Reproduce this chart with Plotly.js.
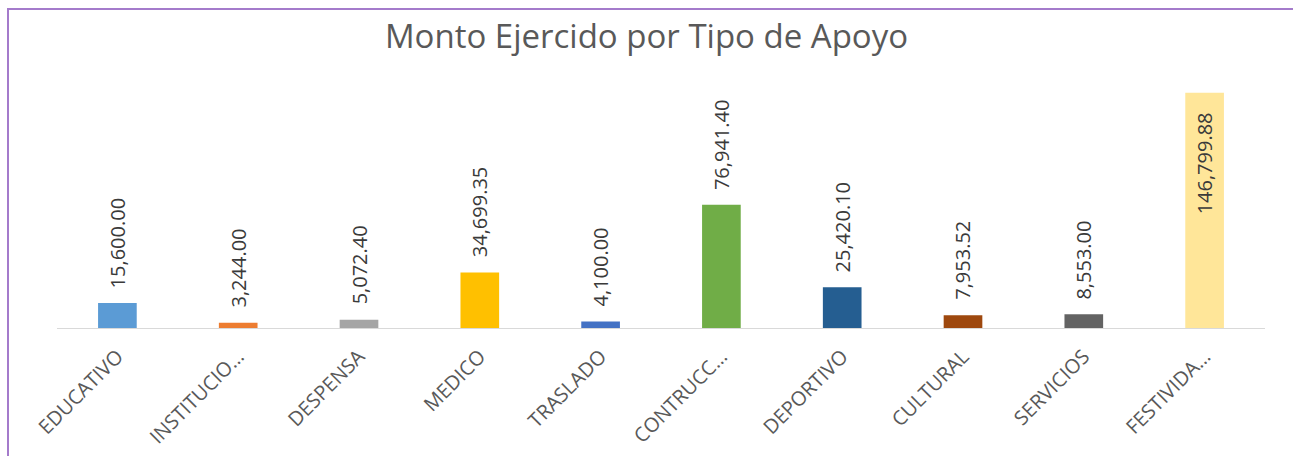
<!DOCTYPE html>
<html>
<head>
<meta charset="utf-8">
<script src="https://cdn.plot.ly/plotly-3.0.1.min.js"></script>
<style>
  html, body { margin:0; padding:0; background:#fff; }
  #wrap { position:relative; width:1293px; height:456px; overflow:hidden; }
  #frame { position:absolute; left:7px; top:8px; width:1300px; height:500px;
           border-left:2px solid #A47BCB; border-top:2px solid #A47BCB; pointer-events:none; }
  #chart { position:absolute; left:0; top:0; width:1293px; height:456px; }
</style>
</head>
<body>
<div id="wrap">
  <div id="chart"></div>
  <div id="frame"></div>
</div>
<script>
const categories = ["EDUCATIVO", "INSTITUCIO…", "DESPENSA", "MEDICO", "TRASLADO", "CONTRUCC…", "DEPORTIVO", "CULTURAL", "SERVICIOS", "FESTIVIDA…"];
const values = [15600.00, 3244.00, 5072.40, 34699.35, 4100.00, 76941.40, 25420.10, 7953.52, 8553.00, 146799.88];
const colors = ["#5B9BD5", "#ED7D31", "#A5A5A5", "#FFC000", "#4472C4", "#70AD47", "#255E91", "#9E480E", "#636363", "#FFE699"];
const labelInside = [false, false, false, false, false, false, false, false, false, true];

const fmt = v => v.toLocaleString('en-US', {minimumFractionDigits: 2, maximumFractionDigits: 2});
const labelFont = {family: "Open Sans, Noto Sans, sans-serif", size: 20, color: "#3a3a3a"};

const annotations = categories.map((c, i) => ({
  x: c, y: values[i], xref: 'x', yref: 'y',
  text: fmt(values[i]), textangle: -90, showarrow: false,
  xanchor: 'center', yanchor: labelInside[i] ? 'top' : 'bottom',
  yshift: labelInside[i] ? -18 : 13,
  font: labelFont
}));

const trace = {
  type: 'bar', x: categories, y: values,
  marker: {color: colors},
  width: 0.32, hoverinfo: 'x+y'
};

const layout = {
  width: 1293, height: 456,
  margin: {l: 57, r: 28, t: 70, b: 128},
  paper_bgcolor: '#fff', plot_bgcolor: '#fff',
  title: {text: "Monto Ejercido por Tipo de Apoyo", x: 0.5, xanchor: 'center', y: 0.92, yanchor: 'middle',
          font: {family: "Open Sans, Noto Sans, sans-serif", size: 33, color: "#595959"}},
  xaxis: {type: 'category', tickangle: -45, showline: true, linecolor: '#D9D9D9', linewidth: 1,
          ticks: '', showgrid: false, ticklabelstandoff: 8,
          tickfont: {family: "Open Sans, Noto Sans, sans-serif", size: 20, color: "#595959"}},
  yaxis: {range: [0, 161000], visible: false, showgrid: false, zeroline: false},
  showlegend: false,
  annotations: annotations
};

Plotly.newPlot('chart', [trace], layout, {displayModeBar: false, staticPlot: true});
</script>
</body>
</html>
